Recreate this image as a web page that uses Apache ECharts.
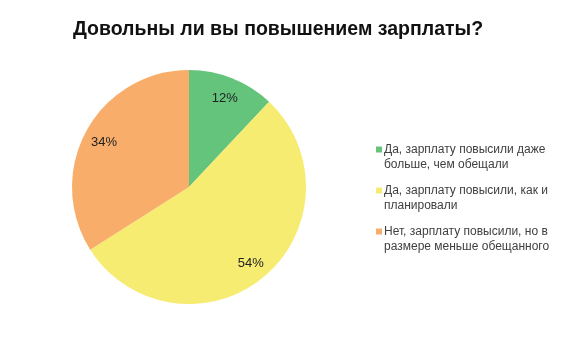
<!DOCTYPE html>
<html><head><meta charset="utf-8">
<script src="https://cdn.jsdelivr.net/npm/echarts@6/dist/echarts.min.js"></script>
<style>html,body{margin:0;padding:0;background:#fff}#c{width:563px;height:350px}</style>
</head><body><div id="c"></div>
<script>
var titleText = 'Довольны ли вы повышением зарплаты?';
var categories = ['Да, зарплату повысили даже больше, чем обещали', 'Да, зарплату повысили, как и планировали', 'Нет, зарплату повысили, но в размере меньше обещанного'];
var legendLines = ['Да, зарплату повысили даже\nбольше, чем обещали', 'Да, зарплату повысили, как и\nпланировали', 'Нет, зарплату повысили, но в\nразмере меньше обещанного'];
var values = [12, 54, 34];
var colors = ['#64c47c', '#f7ec72', '#f8ae6a'];

var data = categories.map(function(c, i){ return {name: c, value: values[i], itemStyle: {color: colors[i]}}; });
var labelData = categories.map(function(c, i){ return {name: c, value: values[i]}; });

var chart = echarts.init(document.getElementById('c'), null, {renderer: 'canvas'});
chart.setOption({
  animation: false,
  backgroundColor: '#ffffff',
  title: {text: titleText, left: 273, top: 15, textAlign: 'center',
    textStyle: {fontFamily: 'Liberation Sans', fontWeight: 'bold', fontSize: 19.5, color: '#111'}},
  legend: {orient: 'vertical', left: 371, top: 137, itemGap: 11,
    icon: 'path://M0,0h6v6h-6z M0,21', itemWidth: 6, itemHeight: 21,
    data: categories,
    formatter: function(n){ return legendLines[categories.indexOf(n)]; },
    textStyle: {fontFamily: 'Liberation Sans', fontSize: 12, color: '#404040', lineHeight: 15, padding: [0,0,0,-3]}},
  series: [{
    type: 'pie', center: [189, 187], radius: 117, startAngle: 90, clockwise: true,
    label: {show: false}, labelLine: {show: false}, silent: true,
    data: data
  }, {
    type: 'pie', center: [189, 189], radius: [72, 116], startAngle: 90, clockwise: true,
    silent: true, labelLine: {show: false},
    itemStyle: {color: 'rgba(0,0,0,0)'},
    label: {show: true, position: 'inside', formatter: '{c}%',
      fontFamily: 'Liberation Sans', fontSize: 13, color: '#222'},
    data: labelData
  }]
});
</script></body></html>
